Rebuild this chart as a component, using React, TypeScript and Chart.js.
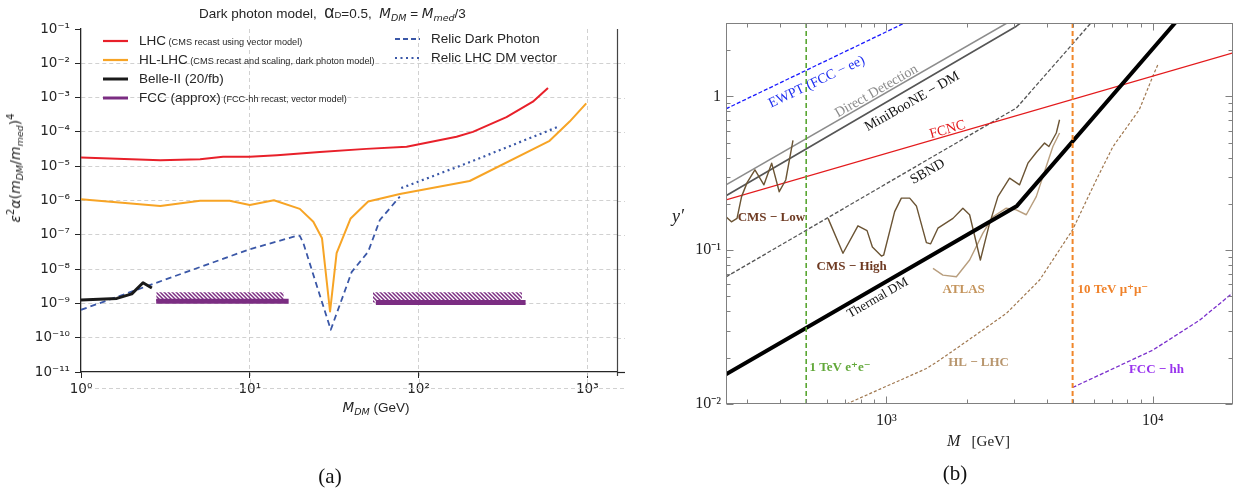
import React, { useEffect, useRef } from "react";
import { Chart, registerables } from "chart.js";

Chart.register(...registerables);

// ---------------- Panel (a): dark photon model ----------------
const lhcMass = [1, 2.95, 5.08, 6.95, 10, 14.5, 26, 49, 85, 168, 210, 332, 476, 585];
const lhcCoupling = [1.8e-5, 1.5e-5, 1.6e-5, 1.9e-5, 1.9e-5, 2.1e-5, 2.6e-5, 3.2e-5, 3.7e-5, 7.2e-5, 1.0e-4, 2.7e-4, 7.6e-4, 1.9e-3];

const hlLhcMass = [1, 2.95, 5.08, 7.6, 10, 13.9, 19.8, 23.8, 26.8, 29.9, 32.7, 39.6, 50.3, 77.5, 201, 598, 786, 986];
const hlLhcCoupling = [1.08e-6, 6.9e-7, 9.8e-7, 9.8e-7, 7.4e-7, 1.02e-6, 5.7e-7, 2.4e-7, 7.9e-8, 5.8e-10, 2.9e-8, 3.0e-7, 9.3e-7, 1.55e-6, 3.7e-6, 5.5e-5, 2.0e-4, 6.8e-4];

const belleMass = [1, 1.63, 2.0, 2.33, 2.63];
const belleCoupling = [1.26e-9, 1.4e-9, 1.9e-9, 4.0e-9, 2.8e-9];

const relicDPMass = [1, 10, 19, 19.8, 20.8, 30.2, 40.2, 50.3, 59, 67.6, 77.5];
const relicDPCoupling = [6.5e-10, 3.8e-8, 9.3e-8, 9.3e-8, 5.6e-8, 1.7e-10, 8.3e-9, 3.2e-8, 2.7e-7, 5.9e-7, 1.3e-6];

const relicVecMass = [79, 192, 670];
const relicVecCoupling = [2.3e-6, 1.2e-5, 1.4e-4];

const fccLowMass = [2.79, 17.0];
const fccHighMass = [55.9, 431];
const fccLowHatchMass = [2.79, 15.9];
const fccHighHatchMass = [53.7, 410];
const fccLowLevel = 1.15e-9;
const fccHighLevel = 1.07e-9;
const fccHatchTop = 2.1e-9;

const aMassTicks = [1, 10, 100, 1000];
const aCouplingTicks = [1e-11, 1e-10, 1e-9, 1e-8, 1e-7, 1e-6, 1e-5, 1e-4, 1e-3, 1e-2, 1e-1];

// ---------------- Panel (b): y' vs M ----------------
const ewptMass = [250, 1171];
const ewptY = [0.83, 3.0];
const ddMass = [250, 2857];
const ddY = [0.266, 3.02];
const minibooneMass = [250, 3076, 3206];
const minibooneY = [0.226, 2.86, 3.02];
const fcncMass = [250, 20000];
const fcncY = [0.212, 1.92];
const sbndMass = [250, 3076, 5875];
const sbndY = [0.067, 0.84, 3.02];
const thermalMass = [250, 3090, 12160];
const thermalY = [0.0156, 0.194, 3.02];
const eeMass = [500, 500];
const eeY = [0.01, 3];
const mumuMass = [5000, 5000];
const mumuY = [0.01, 3];
const hlMass = [708, 1413, 1585, 2113, 2820, 3760, 4990, 6140, 7080, 8900, 10000, 10450];
const hlY = [0.01, 0.017, 0.0193, 0.0273, 0.0388, 0.064, 0.135, 0.287, 0.47, 0.82, 1.35, 1.61];
const fcchhMass = [5000, 10000, 14960, 20000];
const fcchhY = [0.0128, 0.0224, 0.035, 0.0529];
const cmsLowMass = [250, 262, 275, 286, 300, 321, 347, 371, 396, 419, 446];
const cmsLowY = [0.165, 0.153, 0.161, 0.223, 0.275, 0.333, 0.266, 0.368, 0.24, 0.286, 0.517];
const cmsHighMass = [604, 687, 782, 846, 886, 958, 977, 1074, 1138, 1223, 1296, 1413, 1466, 1561, 1778, 1937, 2053, 2253, 2426, 2622, 2900, 3162, 3398, 3652, 3924, 4074, 4343, 4467];
const cmsHighY = [0.161, 0.0955, 0.144, 0.134, 0.105, 0.0917, 0.093, 0.178, 0.218, 0.218, 0.194, 0.112, 0.11, 0.139, 0.161, 0.1875, 0.17, 0.0863, 0.144, 0.223, 0.294, 0.266, 0.368, 0.432, 0.497, 0.472, 0.578, 0.705];
const atlasMass = [1496, 1630, 1831, 2053, 2303, 2512, 2818, 3073, 3350, 3652, 3981, 4217, 4467];
const atlasY = [0.0762, 0.0689, 0.0672, 0.0863, 0.129, 0.165, 0.1875, 0.183, 0.17, 0.223, 0.35, 0.472, 0.578];

const bMassTicks = [1000, 10000];
const bMassMinorTicks = [300, 400, 500, 600, 700, 800, 900, 2000, 3000, 4000, 5000, 6000, 7000, 8000, 9000];
const bYTicks = [0.01, 0.1, 1];
const bYMinorTicks = [0.02, 0.03, 0.04, 0.05, 0.06, 0.07, 0.08, 0.09, 0.2, 0.3, 0.4, 0.5, 0.6, 0.7, 0.8, 0.9, 2, 3];

const bLabels = [
  { text: "EWPT (FCC − ee)", m: 548, v: 1.24, angle: -25.4, color: "#1f2ff0", weight: "normal", size: 14, align: "center" },
  { text: "Direct Detection", m: 918, v: 1.08, angle: -29.8, color: "#8c8c8c", weight: "normal", size: 14, align: "center" },
  { text: "MiniBooNE − DM", m: 1250, v: 0.924, angle: -29.8, color: "#111111", weight: "normal", size: 14, align: "center" },
  { text: "FCNC", m: 1698, v: 0.607, angle: -16.1, color: "#e31a1c", weight: "normal", size: 14, align: "center" },
  { text: "SBND", m: 1429, v: 0.323, angle: -29.8, color: "#111111", weight: "normal", size: 14, align: "center" },
  { text: "Thermal DM", m: 928, v: 0.0488, angle: -29.9, color: "#111111", weight: "normal", size: 13, align: "center" },
  { text: "CMS − Low", m: 370, v: 0.164, angle: 0, color: "#6e3a22", weight: "bold", size: 13, align: "center" },
  { text: "CMS − High", m: 741, v: 0.0777, angle: 0, color: "#6e3a22", weight: "bold", size: 13, align: "center" },
  { text: "ATLAS", m: 1950, v: 0.055, angle: 0, color: "#c4945c", weight: "bold", size: 13, align: "center" },
  { text: "1 TeV e⁺e⁻", m: 515, v: 0.0173, angle: 0, color: "#62a83a", weight: "bold", size: 13, align: "left" },
  { text: "10 TeV μ⁺μ⁻", m: 5220, v: 0.055, angle: 0, color: "#f0822a", weight: "bold", size: 13, align: "left" },
  { text: "HL − LHC", m: 2218, v: 0.0187, angle: 0, color: "#b8966e", weight: "bold", size: 13, align: "center" },
  { text: "FCC − hh", m: 10320, v: 0.0168, angle: 0, color: "#9933ee", weight: "bold", size: 13, align: "center" },
];

// ---------------- helpers ----------------
const SUP: Record<string, string> = { "0": "⁰", "1": "¹", "2": "²", "3": "³", "4": "⁴", "5": "⁵", "6": "⁶", "7": "⁷", "8": "⁸", "9": "⁹", "-": "⁻" };
const pow10 = (v: number) => {
  const e = Math.round(Math.log10(v));
  return "10" + String(e).split("").map((c) => SUP[c]).join("");
};
const pts = (xs: number[], ys: number[]) => xs.map((x, i) => ({ x, y: ys[i] }));
const flat = (xs: number[], y: number) => xs.map((x) => ({ x, y }));

const lineDs = (label: string, data: any[], color: string, width: number, dash: number[] = []) => ({
  label,
  data,
  borderColor: color,
  backgroundColor: color,
  borderWidth: width,
  borderDash: dash,
  pointRadius: 0,
  pointHoverRadius: 0,
  tension: 0,
  fill: false,
  borderCapStyle: "butt",
  borderJoinStyle: "round",
});

const RED = "#e8202a";
const ORANGE = "#f7a425";
const BLUE = "#3a57a7";
const BLACK = "#1a1a1a";
const PURPLE = "#7b2d82";
const GRID = "#cccccc";
const TXT = "#262626";

function makeHatch(color: string) {
  const c = document.createElement("canvas");
  c.width = 4;
  c.height = 4;
  const g = c.getContext("2d")!;
  g.strokeStyle = color;
  g.lineWidth = 1.5;
  g.beginPath();
  g.moveTo(-1, -1);
  g.lineTo(5, 5);
  g.moveTo(-1, 3);
  g.lineTo(1, 5);
  g.moveTo(3, -1);
  g.lineTo(5, 1);
  g.stroke();
  return g.createPattern(c, "repeat");
}

const legendA = [
  { main: "LHC", note: " (CMS recast using vector model)", color: RED, width: 2.2, dash: [] as number[], x0: 103, x1: 128, tx: 139, y: 41 },
  { main: "HL-LHC", note: " (CMS recast and scaling, dark photon model)", color: ORANGE, width: 2.2, dash: [], x0: 103, x1: 128, tx: 139, y: 60 },
  { main: "Belle-II (20/fb)", note: "", color: BLACK, width: 3, dash: [], x0: 103, x1: 128, tx: 139, y: 79 },
  { main: "FCC (approx)", note: " (FCC-hh recast, vector model)", color: PURPLE, width: 3, dash: [], x0: 103, x1: 128, tx: 139, y: 98 },
  { main: "Relic Dark Photon", note: "", color: BLUE, width: 2, dash: [5, 3], x0: 395, x1: 420, tx: 431, y: 39 },
  { main: "Relic LHC DM vector", note: "", color: BLUE, width: 2.2, dash: [2, 3.5], x0: 395, x1: 420, tx: 431, y: 58 },
];

const panelAPlugin = {
  id: "panelA",
  beforeDatasetsDraw(chart: any) {
    const { ctx, chartArea: a, scales } = chart;
    const x = scales.x;
    const y = scales.y;
    ctx.save();
    ctx.strokeStyle = GRID;
    ctx.lineWidth = 0.9;
    ctx.setLineDash([4, 3]);
    ctx.beginPath();
    for (const v of aMassTicks) {
      if (v === aMassTicks[0]) continue;
      const px = Math.round(x.getPixelForValue(v)) + 0.5;
      ctx.moveTo(px, a.bottom);
      ctx.lineTo(px, a.bottom + 16);
    }
    for (const v of aCouplingTicks) {
      if (v === aCouplingTicks[0] || v === aCouplingTicks[aCouplingTicks.length - 1]) continue;
      const py = Math.round(y.getPixelForValue(v)) + 0.5;
      ctx.moveTo(a.right, py);
      ctx.lineTo(a.right + 8, py);
    }
    ctx.moveTo(a.left, a.bottom + 16.5);
    ctx.lineTo(a.right + 8, a.bottom + 16.5);
    ctx.stroke();
    ctx.restore();
  },
  afterDraw(chart: any) {
    const { ctx, chartArea: a } = chart;
    ctx.save();
    ctx.strokeStyle = "#444444";
    ctx.lineWidth = 1.2;
    ctx.beginPath();
    ctx.moveTo(Math.round(a.right) + 0.5, a.top);
    ctx.lineTo(Math.round(a.right) + 0.5, a.bottom + 4);
    ctx.stroke();
    ctx.strokeStyle = TXT;
    ctx.beginPath();
    ctx.moveTo(a.right, a.bottom + 0.5);
    ctx.lineTo(a.right + 8, a.bottom + 0.5);
    ctx.stroke();
    for (const row of legendA) {
      ctx.strokeStyle = row.color;
      ctx.lineWidth = row.width;
      ctx.setLineDash(row.dash);
      ctx.lineCap = "butt";
      ctx.beginPath();
      ctx.moveTo(row.x0, row.y);
      ctx.lineTo(row.x1, row.y);
      ctx.stroke();
      ctx.setLineDash([]);
      ctx.fillStyle = TXT;
      ctx.textBaseline = "middle";
      ctx.textAlign = "left";
      ctx.font = "13.5px 'Liberation Sans', Arial, sans-serif";
      ctx.fillText(row.main, row.tx, row.y);
      const w = ctx.measureText(row.main).width;
      if (row.note) {
        ctx.font = "9.2px 'Liberation Sans', Arial, sans-serif";
        ctx.fillText(row.note, row.tx + w, row.y + 1);
      }
    }
    ctx.restore();
  },
};

const panelBPlugin = {
  id: "panelB",
  afterDatasetsDraw(chart: any) {
    const { ctx, scales } = chart;
    const x = scales.x;
    const y = scales.y;
    ctx.save();
    for (const l of bLabels) {
      const px = x.getPixelForValue(l.m);
      const py = y.getPixelForValue(l.v);
      ctx.save();
      ctx.translate(px, py);
      ctx.rotate((l.angle * Math.PI) / 180);
      ctx.font = `${l.weight} ${l.size}px 'Liberation Serif', 'DejaVu Serif', serif`;
      ctx.fillStyle = l.color;
      ctx.textAlign = l.align as CanvasTextAlign;
      ctx.textBaseline = "middle";
      ctx.fillText(l.text, 0, 0);
      ctx.restore();
    }
    ctx.restore();
  },
  afterDraw(chart: any) {
    const { ctx, chartArea: a, scales } = chart;
    const x = scales.x;
    const y = scales.y;
    ctx.save();
    ctx.strokeStyle = "#808080";
    ctx.lineWidth = 1;
    const L = Math.round(a.left) + 0.5;
    const R = Math.round(a.right) - 0.5;
    const T = Math.round(a.top) + 0.5;
    const B = Math.round(a.bottom) - 0.5;
    ctx.strokeRect(L, T, R - L, B - T);
    ctx.beginPath();
    const xt = [...bMassTicks.map((v) => [v, 7]), ...bMassMinorTicks.map((v) => [v, 4])];
    for (const [v, len] of xt) {
      const px = Math.round(x.getPixelForValue(v)) + 0.5;
      ctx.moveTo(px, B);
      ctx.lineTo(px, B - len);
      ctx.moveTo(px, T);
      ctx.lineTo(px, T + len);
    }
    const yt = [...bYTicks.map((v) => [v, 7]), ...bYMinorTicks.map((v) => [v, 4])];
    for (const [v, len] of yt) {
      const py = Math.round(y.getPixelForValue(v)) + 0.5;
      ctx.moveTo(L, py);
      ctx.lineTo(L + len, py);
      ctx.moveTo(R, py);
      ctx.lineTo(R - len, py);
    }
    ctx.stroke();
    ctx.restore();
  },
};

const subI: React.CSSProperties = { fontFamily: "'DejaVu Sans', sans-serif", fontStyle: "italic", fontSize: 9.5, position: "relative", top: 3 };
const supS: React.CSSProperties = { fontFamily: "'DejaVu Sans', sans-serif", fontSize: 10, position: "relative", top: -6 };
const mathIt: React.CSSProperties = { fontFamily: "'DejaVu Sans', sans-serif", fontStyle: "italic" };

export default function App() {
  const aRef = useRef<HTMLCanvasElement>(null);
  const bRef = useRef<HTMLCanvasElement>(null);

  useEffect(() => {
    const hatch = makeHatch(PURPLE);
    const chartA = new Chart(aRef.current!, {
      type: "line",
      data: {
        datasets: [
          lineDs("Belle-II (20/fb)", pts(belleMass, belleCoupling), BLACK, 3),
          lineDs("FCC (approx) low", flat(fccLowMass, fccLowLevel), PURPLE, 5),
          lineDs("FCC (approx) high", flat(fccHighMass, fccHighLevel), PURPLE, 5),
          lineDs("LHC", pts(lhcMass, lhcCoupling), RED, 2),
          lineDs("HL-LHC", pts(hlLhcMass, hlLhcCoupling), ORANGE, 2),
          lineDs("Relic LHC DM vector", pts(relicVecMass, relicVecCoupling), BLUE, 2.2, [2, 3.5]),
          lineDs("Relic Dark Photon", pts(relicDPMass, relicDPCoupling), BLUE, 1.8, [6, 4]),
          { ...lineDs("FCC hatch low", flat(fccLowHatchMass, fccHatchTop), "rgba(0,0,0,0)", 0), fill: { value: fccLowLevel }, backgroundColor: hatch },
          { ...lineDs("FCC hatch high", flat(fccHighHatchMass, fccHatchTop), "rgba(0,0,0,0)", 0), fill: { value: fccHighLevel }, backgroundColor: hatch },
        ] as any,
      },
      options: {
        animation: false,
        responsive: false,
        maintainAspectRatio: false,
        layout: { padding: { left: 0, top: 29, right: 23, bottom: 0 } },
        plugins: { legend: { display: false }, tooltip: { enabled: false }, title: { display: false } },
        scales: {
          x: {
            type: "logarithmic",
            min: 1,
            max: 1500,
            afterBuildTicks: (s: any) => {
              s.ticks = aMassTicks.map((v) => ({ value: v }));
            },
            afterFit: (s: any) => {
              s.height = 120;
            },
            ticks: {
              callback: (v: any) => pow10(Number(v)),
              font: { family: "'DejaVu Sans', sans-serif", size: 13.5 },
              color: TXT,
              padding: 3,
              maxRotation: 0,
              autoSkip: false,
            },
            grid: {
              color: (c: any) => (c.tick && c.tick.value === aMassTicks[0] ? "rgba(0,0,0,0)" : GRID),
              lineWidth: 0.9,
              tickColor: TXT,
              tickLength: 6,
              tickWidth: 1,
            },
            border: { display: true, color: TXT, width: 1.3, dash: [4, 3] },
          },
          y: {
            type: "logarithmic",
            min: 1e-11,
            max: 1e-1,
            afterBuildTicks: (s: any) => {
              s.ticks = aCouplingTicks.map((v) => ({ value: v }));
            },
            afterFit: (s: any) => {
              s.width = 81;
            },
            ticks: {
              callback: (v: any) => pow10(Number(v)),
              font: { family: "'DejaVu Sans', sans-serif", size: 13.5 },
              color: TXT,
              padding: 5,
              autoSkip: false,
            },
            grid: {
              color: (c: any) =>
                c.tick && (c.tick.value === aCouplingTicks[0] || c.tick.value === aCouplingTicks[aCouplingTicks.length - 1])
                  ? "rgba(0,0,0,0)"
                  : GRID,
              lineWidth: 0.9,
              tickColor: TXT,
              tickLength: 6,
              tickWidth: 1,
            },
            border: { display: true, color: TXT, width: 1.3, dash: [4, 3] },
          },
        },
      } as any,
      plugins: [panelAPlugin],
    });

    const chartB = new Chart(bRef.current!, {
      type: "line",
      data: {
        datasets: [
          lineDs("10 TeV μ+μ−", pts(mumuMass, mumuY), "#f0862a", 2, [5, 3]),
          lineDs("1 TeV e+e−", pts(eeMass, eeY), "#5aa632", 1.6, [5, 3]),
          lineDs("Thermal DM", pts(thermalMass, thermalY), "#000000", 4),
          lineDs("CMS-Low", pts(cmsLowMass, cmsLowY), "#6b5434", 1.4),
          lineDs("CMS-High", pts(cmsHighMass, cmsHighY), "#6b5434", 1.4),
          lineDs("ATLAS", pts(atlasMass, atlasY), "#b89e7e", 1.4),
          lineDs("FCNC", pts(fcncMass, fcncY), "#e31a1c", 1.3),
          lineDs("SBND", pts(sbndMass, sbndY), "#555555", 1.3, [4, 2]),
          lineDs("MiniBooNE-DM", pts(minibooneMass, minibooneY), "#555555", 1.6),
          lineDs("Direct Detection", pts(ddMass, ddY), "#8c8c8c", 1.6),
          lineDs("EWPT (FCC-ee)", pts(ewptMass, ewptY), "#1a1aff", 1.3, [4, 2]),
          lineDs("HL-LHC", pts(hlMass, hlY), "#a07850", 1.2, [3, 2]),
          lineDs("FCC-hh", pts(fcchhMass, fcchhY), "#7a2fcc", 1.3, [4, 2]),
        ] as any,
      },
      options: {
        animation: false,
        responsive: false,
        maintainAspectRatio: false,
        layout: { padding: { left: 0, top: 23, right: 1, bottom: 0 } },
        plugins: { legend: { display: false }, tooltip: { enabled: false }, title: { display: false } },
        scales: {
          x: {
            type: "logarithmic",
            min: 250,
            max: 20000,
            afterBuildTicks: (s: any) => {
              s.ticks = bMassTicks.map((v) => ({ value: v }));
            },
            afterFit: (s: any) => {
              s.height = 88;
            },
            ticks: {
              callback: (v: any) => pow10(Number(v)),
              font: { family: "'Liberation Serif', serif", size: 16 },
              color: "#222222",
              padding: 7,
              maxRotation: 0,
              autoSkip: false,
            },
            grid: { display: false, drawTicks: false, tickLength: 0 },
            border: { display: false },
          },
          y: {
            type: "logarithmic",
            min: 0.01,
            max: 3,
            afterBuildTicks: (s: any) => {
              s.ticks = bYTicks.map((v) => ({ value: v }));
            },
            afterFit: (s: any) => {
              s.width = 86;
            },
            ticks: {
              callback: (v: any) => (Number(v) === 1 ? "1" : pow10(Number(v))),
              font: { family: "'Liberation Serif', serif", size: 16 },
              color: "#222222",
              padding: 5,
              autoSkip: false,
            },
            grid: { display: false, drawTicks: false, tickLength: 0 },
            border: { display: false },
          },
        },
      } as any,
      plugins: [panelBPlugin],
    });

    return () => {
      chartA.destroy();
      chartB.destroy();
    };
  }, []);

  return (
    <div style={{ position: "absolute", left: 0, top: 0, width: 1234, height: 492, background: "#ffffff", overflow: "hidden" }}>
      <canvas ref={aRef} width={640} height={492} style={{ position: "absolute", left: 0, top: 0, width: 640, height: 492 }} />
      <canvas ref={bRef} width={594} height={492} style={{ position: "absolute", left: 640, top: 0, width: 594, height: 492 }} />

      {/* Panel (a) texts */}
      <div
        style={{
          position: "absolute",
          left: 199,
          top: 3,
          whiteSpace: "pre",
          fontFamily: "'Liberation Sans', Arial, sans-serif",
          fontSize: 13.5,
          color: TXT,
          lineHeight: "18px",
          pointerEvents: "none",
        }}
      >
        {"Dark photon model,  "}
        <span style={{ fontSize: 17.5 }}>α</span>
        <span style={{ fontSize: 9.5 }}>D</span>
        {"=0.5,  "}
        <span style={mathIt}>M</span>
        <span style={subI}>DM</span>
        {" = "}
        <span style={mathIt}>M</span>
        <span style={subI}>med</span>
        {"/3"}
      </div>
      <div
        style={{
          position: "absolute",
          left: 15,
          top: 168,
          transform: "translate(-50%, -50%) rotate(-90deg)",
          whiteSpace: "pre",
          fontFamily: "'DejaVu Sans', sans-serif",
          fontSize: 14,
          color: TXT,
          pointerEvents: "none",
        }}
      >
        <span style={mathIt}>ε</span>
        <span style={supS}>2</span>
        <span style={mathIt}>α</span>
        {"("}
        <span style={mathIt}>m</span>
        <span style={subI}>DM</span>
        {"/"}
        <span style={mathIt}>m</span>
        <span style={subI}>med</span>
        {")"}
        <span style={supS}>4</span>
      </div>
      <div
        style={{
          position: "absolute",
          left: 376,
          top: 407,
          transform: "translate(-50%, -50%)",
          whiteSpace: "pre",
          fontFamily: "'Liberation Sans', Arial, sans-serif",
          fontSize: 13.5,
          color: TXT,
          pointerEvents: "none",
        }}
      >
        <span style={mathIt}>M</span>
        <span style={subI}>DM</span>
        {" (GeV)"}
      </div>
      <div
        style={{
          position: "absolute",
          left: 330,
          top: 476,
          transform: "translate(-50%, -50%)",
          fontFamily: "'Liberation Serif', serif",
          fontSize: 21,
          color: "#111",
          pointerEvents: "none",
        }}
      >
        (a)
      </div>

      {/* Panel (b) texts */}
      <div
        style={{
          position: "absolute",
          left: 678,
          top: 216,
          transform: "translate(-50%, -50%)",
          fontFamily: "'Liberation Serif', serif",
          fontStyle: "italic",
          fontSize: 18,
          color: "#222",
          pointerEvents: "none",
        }}
      >
        y′
      </div>
      <div
        style={{
          position: "absolute",
          left: 947,
          top: 441,
          transform: "translate(0, -50%)",
          whiteSpace: "pre",
          fontFamily: "'Liberation Serif', serif",
          fontSize: 15,
          color: "#222",
          pointerEvents: "none",
        }}
      >
        <span style={{ fontStyle: "italic", fontSize: 16 }}>M</span>
        {"   [GeV]"}
      </div>
      <div
        style={{
          position: "absolute",
          left: 955,
          top: 473,
          transform: "translate(-50%, -50%)",
          fontFamily: "'Liberation Serif', serif",
          fontSize: 21,
          color: "#111",
          pointerEvents: "none",
        }}
      >
        (b)
      </div>
    </div>
  );
}
